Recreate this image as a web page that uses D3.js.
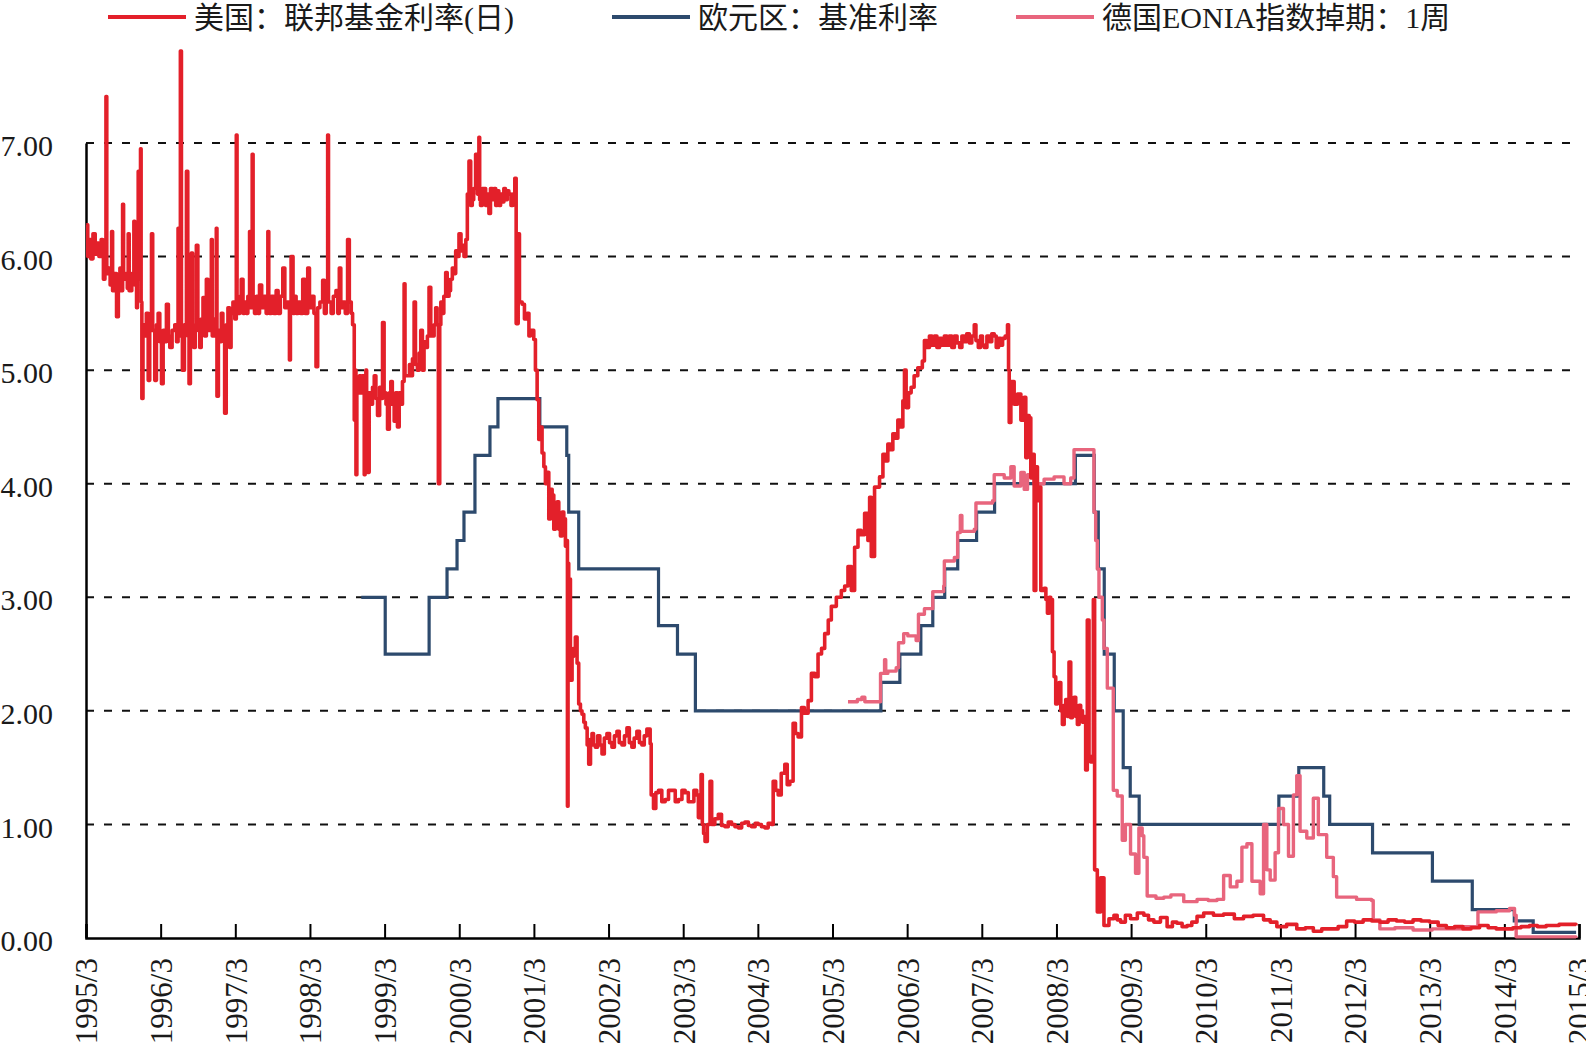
<!DOCTYPE html>
<html>
<head>
<meta charset="utf-8">
<script src="https://cdn.jsdelivr.net/npm/d3@7"></script>
<style>
  body { margin: 0; background: #fff; }
  svg { display: block; }
  text { font-family: 'Liberation Serif', 'Noto Sans CJK SC', serif; fill: #1a1a1a; }
</style>
</head>
<body>
<div class="chart"></div>
<script>
// dates are decimal years
var xTickLabels = ['1995/3', '1996/3', '1997/3', '1998/3', '1999/3', '2000/3', '2001/3',
  '2002/3', '2003/3', '2004/3', '2005/3', '2006/3', '2007/3', '2008/3', '2009/3',
  '2010/3', '2011/3', '2012/3', '2013/3', '2014/3', '2015/3'];
var yTicks = [0, 1, 2, 3, 4, 5, 6, 7];
var seriesNames = ['美国：联邦基金利率(日)', '欧元区：基准利率', '德国EONIA指数掉期：1周'];

// [date, rate]
var usPoints = [
  [1995.17, 6.28], [1995.19, 6.0], [1995.21, 6.15], [1995.23, 5.98], [1995.26, 6.2],
  [1995.29, 6.02], [1995.31, 6.12], [1995.34, 6.0], [1995.37, 6.15], [1995.39, 6.05],
  [1995.4, 5.8], [1995.42, 5.85], [1995.434, 7.41], [1995.445, 5.85], [1995.47, 5.9],
  [1995.49, 5.75], [1995.51, 6.22], [1995.523, 5.7], [1995.55, 5.85], [1995.576, 5.47],
  [1995.6, 5.8], [1995.621, 5.9], [1995.64, 5.7], [1995.657, 6.46], [1995.67, 5.8],
  [1995.7, 5.85], [1995.72, 5.72], [1995.732, 6.2], [1995.745, 5.7], [1995.78, 5.85],
  [1995.808, 6.31], [1995.82, 5.75], [1995.844, 5.55], [1995.856, 5.9], [1995.866, 6.75],
  [1995.88, 5.8], [1995.897, 6.95], [1995.905, 5.6], [1995.915, 4.75], [1995.93, 5.4],
  [1995.955, 5.3], [1995.975, 5.5], [1996.0, 4.91], [1996.02, 5.35], [1996.044, 6.2],
  [1996.06, 5.35], [1996.088, 4.91], [1996.11, 5.4], [1996.133, 5.5], [1996.155, 5.25],
  [1996.178, 4.88], [1996.2, 5.35], [1996.22, 5.25], [1996.244, 5.58], [1996.27, 5.3],
  [1996.289, 5.2], [1996.32, 5.35], [1996.356, 5.4], [1996.38, 5.25], [1996.4, 6.25],
  [1996.415, 5.3], [1996.431, 7.81], [1996.445, 5.3], [1996.458, 5.0], [1996.485, 5.4],
  [1996.512, 6.75], [1996.53, 5.3], [1996.547, 4.88], [1996.565, 5.4], [1996.578, 6.03],
  [1996.595, 5.3], [1996.61, 5.2], [1996.63, 5.4], [1996.645, 6.1], [1996.665, 5.35],
  [1996.69, 5.2], [1996.71, 5.45], [1996.734, 5.64], [1996.755, 5.3], [1996.779, 5.8],
  [1996.8, 5.35], [1996.825, 5.5], [1996.846, 6.15], [1996.858, 5.3], [1996.88, 5.45],
  [1996.912, 6.25], [1996.921, 4.77], [1996.94, 5.35], [1996.96, 5.25], [1996.979, 5.5],
  [1997.0, 5.3], [1997.024, 4.62], [1997.045, 5.4], [1997.068, 5.55], [1997.09, 5.2],
  [1997.11, 5.5], [1997.135, 5.6], [1997.16, 5.45], [1997.18, 7.07], [1997.19, 5.6],
  [1997.21, 5.5], [1997.23, 5.65], [1997.246, 5.8], [1997.27, 5.5], [1997.29, 5.6],
  [1997.313, 5.5], [1997.335, 5.65], [1997.358, 6.22], [1997.37, 5.55], [1997.393, 6.9],
  [1997.405, 5.6], [1997.424, 5.5], [1997.45, 5.65], [1997.47, 5.5], [1997.491, 5.75],
  [1997.52, 5.55], [1997.55, 5.65], [1997.58, 5.5], [1997.603, 6.22], [1997.615, 5.6],
  [1997.625, 5.5], [1997.65, 5.65], [1997.68, 5.5], [1997.714, 5.7], [1997.74, 5.5],
  [1997.77, 5.65], [1997.803, 5.9], [1997.83, 5.55], [1997.86, 5.6], [1997.892, 5.09],
  [1997.905, 5.6], [1997.914, 6.0], [1997.94, 5.5], [1997.96, 5.65], [1997.981, 5.5],
  [1998.01, 5.6], [1998.04, 5.5], [1998.07, 5.8], [1998.1, 5.5], [1998.137, 5.9],
  [1998.16, 5.55], [1998.19, 5.65], [1998.22, 5.5], [1998.248, 5.03], [1998.27, 5.55],
  [1998.3, 5.6], [1998.337, 5.79], [1998.36, 5.5], [1998.385, 5.6], [1998.404, 7.07],
  [1998.415, 5.6], [1998.45, 5.5], [1998.48, 5.65], [1998.515, 5.7], [1998.54, 5.5],
  [1998.56, 5.9], [1998.58, 5.55], [1998.604, 5.6], [1998.64, 5.5], [1998.671, 6.15],
  [1998.694, 5.6], [1998.72, 5.5], [1998.738, 5.4], [1998.76, 4.56], [1998.77, 5.0],
  [1998.783, 4.08], [1998.795, 4.9], [1998.805, 4.8], [1998.83, 4.95], [1998.849, 4.8],
  [1998.87, 4.95], [1998.894, 4.08], [1998.905, 4.85], [1998.916, 5.0], [1998.926, 4.7],
  [1998.938, 4.1], [1998.96, 4.8], [1998.983, 4.7], [1999.005, 4.85], [1999.028, 4.95],
  [1999.05, 4.75], [1999.072, 4.6], [1999.1, 4.85], [1999.12, 4.75], [1999.139, 5.42],
  [1999.16, 4.8], [1999.185, 4.7], [1999.206, 4.48], [1999.23, 4.8], [1999.25, 4.9],
  [1999.27, 4.7], [1999.295, 4.55], [1999.315, 4.8], [1999.339, 4.5], [1999.362, 4.8],
  [1999.385, 4.7], [1999.406, 4.9], [1999.428, 5.76], [1999.44, 4.95], [1999.473, 4.95],
  [1999.5, 5.05], [1999.52, 4.95], [1999.54, 5.1], [1999.562, 5.6], [1999.58, 5.05],
  [1999.606, 5.0], [1999.63, 5.15], [1999.651, 5.35], [1999.673, 5.0], [1999.695, 5.25],
  [1999.718, 5.2], [1999.74, 5.3], [1999.762, 5.73], [1999.785, 5.3], [1999.807, 5.3],
  [1999.83, 5.4], [1999.851, 5.55], [1999.87, 5.4], [1999.887, 4.0], [1999.905, 5.4],
  [1999.92, 5.6], [1999.94, 5.5], [1999.96, 5.65], [1999.985, 5.86], [2000.005, 5.65],
  [2000.03, 5.7], [2000.05, 5.8], [2000.074, 5.9], [2000.095, 5.85], [2000.119, 6.05],
  [2000.14, 6.0], [2000.163, 6.2], [2000.19, 6.05], [2000.21, 6.1], [2000.23, 6.0],
  [2000.255, 6.15], [2000.275, 6.55], [2000.297, 6.84], [2000.32, 6.45], [2000.341, 6.5],
  [2000.36, 6.6], [2000.386, 6.9], [2000.41, 6.55], [2000.43, 7.05], [2000.44, 6.5],
  [2000.452, 6.45], [2000.475, 6.6], [2000.497, 6.6], [2000.52, 6.45], [2000.54, 6.55],
  [2000.564, 6.38], [2000.585, 6.6], [2000.61, 6.5], [2000.631, 6.6], [2000.655, 6.45],
  [2000.675, 6.58], [2000.697, 6.45], [2000.72, 6.55], [2000.74, 6.48], [2000.764, 6.6],
  [2000.785, 6.5], [2000.81, 6.58], [2000.831, 6.55], [2000.86, 6.45], [2000.885, 6.55],
  [2000.911, 6.69], [2000.929, 5.41], [2000.956, 6.2], [2000.973, 5.6], [2001.009, 5.58],
  [2001.04, 5.45], [2001.076, 5.5], [2001.1, 5.3], [2001.12, 5.35], [2001.165, 5.27],
  [2001.187, 5.0], [2001.21, 4.74], [2001.232, 4.39], [2001.255, 4.5], [2001.276, 4.27],
  [2001.3, 4.15], [2001.321, 4.0], [2001.345, 4.1], [2001.366, 3.69], [2001.39, 3.95],
  [2001.411, 3.9], [2001.433, 3.6], [2001.455, 3.8], [2001.478, 3.84], [2001.5, 3.6],
  [2001.522, 3.54], [2001.545, 3.75], [2001.567, 3.69], [2001.589, 3.45], [2001.607, 3.5],
  [2001.616, 1.16], [2001.624, 3.3], [2001.633, 3.16], [2001.656, 2.27], [2001.678, 2.48],
  [2001.7, 2.55], [2001.722, 2.65], [2001.745, 2.42], [2001.767, 2.06], [2001.79, 2.0],
  [2001.811, 1.97], [2001.835, 1.9], [2001.856, 1.85], [2001.88, 1.7], [2001.901, 1.53],
  [2001.925, 1.75], [2001.945, 1.8], [2001.965, 1.7], [2001.99, 1.68], [2002.02, 1.78],
  [2002.05, 1.7], [2002.079, 1.62], [2002.11, 1.76], [2002.145, 1.8], [2002.18, 1.72],
  [2002.212, 1.68], [2002.245, 1.78], [2002.279, 1.82], [2002.31, 1.72], [2002.346, 1.7],
  [2002.38, 1.78], [2002.413, 1.85], [2002.445, 1.72], [2002.479, 1.68], [2002.51, 1.76],
  [2002.546, 1.82], [2002.58, 1.72], [2002.613, 1.7], [2002.645, 1.78], [2002.68, 1.84],
  [2002.724, 1.71], [2002.738, 1.26], [2002.769, 1.14], [2002.8, 1.28], [2002.836, 1.3],
  [2002.88, 1.2], [2002.925, 1.22], [2002.97, 1.3], [2003.014, 1.3], [2003.06, 1.2],
  [2003.103, 1.22], [2003.15, 1.3], [2003.192, 1.28], [2003.235, 1.2], [2003.281, 1.2],
  [2003.31, 1.3], [2003.348, 1.26], [2003.37, 1.06], [2003.406, 1.44], [2003.423, 1.0],
  [2003.44, 0.92], [2003.459, 0.85], [2003.49, 1.0], [2003.526, 1.38], [2003.548, 1.0],
  [2003.59, 1.05], [2003.637, 1.09], [2003.68, 0.99], [2003.726, 0.98], [2003.77, 1.02],
  [2003.815, 1.0], [2003.86, 0.98], [2003.904, 0.97], [2003.95, 1.01], [2003.993, 1.02],
  [2004.04, 0.99], [2004.082, 0.98], [2004.13, 1.01], [2004.171, 1.0], [2004.215, 0.98],
  [2004.26, 0.97], [2004.305, 1.01], [2004.35, 1.0], [2004.372, 1.38], [2004.405, 1.3],
  [2004.439, 1.26], [2004.48, 1.45], [2004.528, 1.53], [2004.56, 1.35], [2004.595, 1.38],
  [2004.639, 1.89], [2004.67, 1.8], [2004.706, 1.77], [2004.751, 2.03], [2004.79, 1.98],
  [2004.84, 2.09], [2004.884, 2.33], [2004.93, 2.3], [2004.973, 2.5], [2005.02, 2.55],
  [2005.062, 2.68], [2005.11, 2.8], [2005.151, 2.92], [2005.218, 3.0], [2005.285, 3.06],
  [2005.33, 3.1], [2005.374, 3.27], [2005.419, 3.06], [2005.463, 3.44], [2005.508, 3.59],
  [2005.55, 3.55], [2005.597, 3.74], [2005.641, 3.5], [2005.664, 3.88], [2005.686, 3.36],
  [2005.73, 3.97], [2005.797, 4.06], [2005.842, 4.26], [2005.875, 4.2], [2005.908, 4.35],
  [2005.94, 4.3], [2005.975, 4.44], [2006.01, 4.4], [2006.042, 4.56], [2006.075, 4.5],
  [2006.109, 4.73], [2006.131, 5.0], [2006.153, 4.67], [2006.185, 4.8], [2006.22, 4.85],
  [2006.26, 4.95], [2006.309, 5.02], [2006.37, 5.08], [2006.398, 5.26], [2006.43, 5.2],
  [2006.465, 5.3], [2006.5, 5.22], [2006.532, 5.3], [2006.565, 5.2], [2006.6, 5.28],
  [2006.632, 5.22], [2006.665, 5.3], [2006.7, 5.22], [2006.73, 5.3], [2006.765, 5.2],
  [2006.799, 5.3], [2006.835, 5.24], [2006.87, 5.2], [2006.9, 5.3], [2006.933, 5.25],
  [2006.965, 5.32], [2007.0, 5.24], [2007.033, 5.3], [2007.066, 5.4], [2007.088, 5.26],
  [2007.12, 5.2], [2007.15, 5.3], [2007.175, 5.22], [2007.2, 5.2], [2007.235, 5.3],
  [2007.27, 5.25], [2007.3, 5.32], [2007.333, 5.3], [2007.36, 5.2], [2007.39, 5.28],
  [2007.42, 5.22], [2007.445, 5.28], [2007.48, 5.3], [2007.511, 5.4], [2007.525, 5.0],
  [2007.534, 4.54], [2007.556, 4.9], [2007.6, 4.7], [2007.645, 4.79], [2007.69, 4.56],
  [2007.734, 4.76], [2007.756, 4.23], [2007.78, 4.6], [2007.801, 4.58], [2007.823, 4.05],
  [2007.845, 4.26], [2007.868, 3.06], [2007.89, 4.15], [2007.912, 3.85], [2007.935, 3.97],
  [2007.957, 3.06], [2008.001, 3.08], [2008.025, 2.98], [2008.046, 2.86], [2008.07, 3.0],
  [2008.09, 2.98], [2008.113, 2.52], [2008.135, 2.3], [2008.157, 2.06], [2008.18, 2.2],
  [2008.202, 2.25], [2008.225, 2.0], [2008.246, 1.88], [2008.27, 2.05], [2008.291, 2.1],
  [2008.315, 1.95], [2008.335, 2.43], [2008.358, 1.94], [2008.38, 2.05], [2008.402, 2.12],
  [2008.425, 1.95], [2008.447, 1.88], [2008.47, 2.05], [2008.491, 2.0], [2008.515, 1.9],
  [2008.536, 1.95], [2008.558, 1.48], [2008.58, 2.8], [2008.603, 1.6], [2008.625, 1.55],
  [2008.661, 2.98], [2008.678, 0.6], [2008.714, 0.23], [2008.758, 0.53], [2008.803, 0.11],
  [2008.87, 0.17], [2008.937, 0.2], [2008.98, 0.16], [2009.026, 0.14], [2009.09, 0.2],
  [2009.159, 0.17], [2009.25, 0.22], [2009.337, 0.2], [2009.4, 0.16], [2009.471, 0.14],
  [2009.56, 0.18], [2009.649, 0.1], [2009.72, 0.14], [2009.78, 0.13], [2009.85, 0.1],
  [2009.916, 0.11], [2009.98, 0.14], [2010.05, 0.19], [2010.139, 0.22], [2010.27, 0.2],
  [2010.406, 0.21], [2010.55, 0.17], [2010.673, 0.19], [2010.8, 0.2], [2010.941, 0.16],
  [2011.03, 0.14], [2011.119, 0.1], [2011.25, 0.12], [2011.386, 0.08], [2011.5, 0.09],
  [2011.608, 0.06], [2011.72, 0.08], [2011.831, 0.08], [2011.94, 0.1], [2012.054, 0.15],
  [2012.16, 0.14], [2012.276, 0.16], [2012.39, 0.15], [2012.499, 0.14], [2012.61, 0.16],
  [2012.722, 0.15], [2012.83, 0.14], [2012.944, 0.16], [2013.05, 0.15], [2013.167, 0.14],
  [2013.28, 0.11], [2013.39, 0.09], [2013.5, 0.1], [2013.612, 0.08], [2013.72, 0.09],
  [2013.835, 0.11], [2013.95, 0.09], [2014.058, 0.08], [2014.17, 0.08], [2014.281, 0.09],
  [2014.39, 0.1], [2014.503, 0.11], [2014.61, 0.1], [2014.726, 0.11], [2014.9, 0.12],
  [2015.126, 0.11]
];

var ecbPoints = [
  [1998.854, 3.0], [1999.175, 2.5], [1999.763, 3.0], [2000.003, 3.25], [2000.137, 3.5],
  [2000.23, 3.75], [2000.377, 4.25], [2000.578, 4.5], [2000.685, 4.75], [2001.246, 4.5],
  [2001.607, 4.25], [2001.633, 3.75], [2001.767, 3.25], [2002.836, 2.75], [2003.09, 2.5],
  [2003.33, 2.0], [2005.815, 2.25], [2006.069, 2.5], [2006.35, 2.75], [2006.51, 3.0],
  [2006.67, 3.25], [2006.844, 3.5], [2007.097, 3.75], [2007.338, 4.0], [2008.42, 4.25],
  [2008.673, 3.75], [2008.727, 3.25], [2008.807, 2.5], [2008.941, 2.0], [2009.061, 1.5],
  [2009.155, 1.25], [2009.275, 1.0], [2011.146, 1.25], [2011.413, 1.5], [2011.747, 1.25],
  [2011.827, 1.0], [2012.401, 0.75], [2013.203, 0.5], [2013.737, 0.25], [2014.3, 0.15],
  [2014.553, 0.05], [2015.128, 0.05]
];

var eoniaPoints = [
  [2005.374, 2.08], [2005.5, 2.1], [2005.56, 2.12], [2005.6, 2.08], [2005.775, 2.08],
  [2005.81, 2.33], [2005.864, 2.45], [2005.88, 2.33], [2005.908, 2.35], [2006.02, 2.38],
  [2006.051, 2.6], [2006.12, 2.68], [2006.176, 2.66], [2006.287, 2.62], [2006.318, 2.85],
  [2006.398, 2.9], [2006.51, 3.05], [2006.656, 3.1], [2006.665, 3.32], [2006.799, 3.35],
  [2006.843, 3.57], [2006.879, 3.72], [2006.9, 3.58], [2007.066, 3.6], [2007.088, 3.83],
  [2007.311, 3.85], [2007.333, 4.08], [2007.467, 4.05], [2007.556, 4.15], [2007.6, 3.98],
  [2007.69, 4.1], [2007.735, 3.95], [2007.779, 4.08], [2007.868, 4.0], [2008.001, 4.04],
  [2008.135, 4.06], [2008.268, 4.0], [2008.358, 4.05], [2008.402, 4.3], [2008.647, 4.3],
  [2008.669, 3.75], [2008.692, 3.5], [2008.714, 3.25], [2008.736, 3.0], [2008.781, 2.8],
  [2008.803, 2.55], [2008.848, 2.2], [2008.914, 2.2], [2008.928, 1.3], [2008.981, 1.25],
  [2009.048, 0.86], [2009.09, 1.0], [2009.159, 0.74], [2009.226, 0.57], [2009.271, 0.97],
  [2009.315, 0.9], [2009.337, 0.71], [2009.382, 0.37], [2009.5, 0.35], [2009.605, 0.36],
  [2009.7, 0.38], [2009.783, 0.38], [2009.872, 0.32], [2010.05, 0.34], [2010.2, 0.33],
  [2010.317, 0.34], [2010.406, 0.55], [2010.495, 0.45], [2010.584, 0.5], [2010.651, 0.8],
  [2010.718, 0.83], [2010.785, 0.5], [2010.896, 0.39], [2010.941, 1.0], [2010.985, 0.6],
  [2011.03, 0.51], [2011.096, 0.75], [2011.141, 1.14], [2011.208, 1.0], [2011.275, 0.72],
  [2011.341, 1.26], [2011.386, 1.43], [2011.43, 0.94], [2011.52, 0.88], [2011.608, 1.23],
  [2011.675, 0.91], [2011.787, 0.71], [2011.876, 0.54], [2011.92, 0.36], [2012.187, 0.34],
  [2012.388, 0.33], [2012.41, 0.16], [2012.499, 0.08], [2012.7, 0.09], [2012.944, 0.07],
  [2013.2, 0.08], [2013.39, 0.08], [2013.6, 0.1], [2013.79, 0.1], [2013.813, 0.23],
  [2014.058, 0.24], [2014.236, 0.26], [2014.303, 0.2], [2014.325, 0.01], [2015.126, 0.0]
];

var colors = ['#e3202a', '#2d4a6d', '#e8657d'];

var width = 1586,
  height = 1043;

var svg = d3
  .select('.chart')
  .append('svg')
  .attr('width', width)
  .attr('height', height);

var xTickValues = xTickLabels.map((l) => +l.slice(0, 4) + 2 / 12);

var xScale = d3
  .scaleLinear()
  .domain([xTickValues[0], xTickValues[xTickValues.length - 1]])
  .range([86, 1579]);

var yScale = d3.scaleLinear().domain([0, 7]).range([938, 143]);

// dashed gridlines
svg
  .append('g')
  .selectAll('line')
  .data(yTicks.slice(1))
  .enter()
  .append('line')
  .attr('x1', xScale.range()[0])
  .attr('x2', xScale.range()[1])
  .attr('y1', (d) => yScale(d))
  .attr('y2', (d) => yScale(d))
  .attr('stroke', '#111')
  .attr('stroke-width', 2)
  .attr('stroke-dasharray', '8,10');

// y axis
var yAxis = d3
  .axisLeft(yScale)
  .tickValues(yTicks)
  .tickSize(0)
  .tickPadding(33)
  .tickFormat(d3.format('.2f'));

var yG = svg.append('g').attr('transform', 'translate(86,0)').call(yAxis);
yG.select('.domain').attr('stroke', '#000').attr('stroke-width', 2.5);
yG.selectAll('text')
  .style('font-size', '30px')
  .attr('dy', '0.42em');

// x axis, ticks point up into the plot
var xAxis = d3
  .axisBottom(xScale)
  .tickValues(xTickValues)
  .tickSize(-14)
  .tickFormat((d, i) => xTickLabels[i]);

var xG = svg.append('g').attr('transform', 'translate(0,938)').call(xAxis);
xG.select('.domain').attr('stroke', '#000').attr('stroke-width', 2.5);
xG.selectAll('.tick line').attr('stroke', '#000').attr('stroke-width', 2);
xG.selectAll('text')
  .style('font-size', '31px')
  .attr('text-anchor', 'end')
  .attr('transform', 'translate(0,20) rotate(-90)')
  .attr('x', 0)
  .attr('y', 0)
  .attr('dy', '0.35em');

// series lines
var line = d3
  .line()
  .x((d) => xScale(d[0]))
  .y((d) => yScale(d[1]));

svg
  .append('path')
  .datum(ecbPoints)
  .attr('fill', 'none')
  .attr('stroke', colors[1])
  .attr('stroke-width', 3.2)
  .attr('d', line.curve(d3.curveStepAfter));

svg
  .append('path')
  .datum(eoniaPoints)
  .attr('fill', 'none')
  .attr('stroke', colors[2])
  .attr('stroke-width', 3.4)
  .attr('stroke-linejoin', 'round')
  .attr('d', line.curve(d3.curveStepAfter));

svg
  .append('path')
  .datum(usPoints)
  .attr('fill', 'none')
  .attr('stroke', colors[0])
  .attr('stroke-width', 3.6)
  .attr('stroke-linejoin', 'round')
  .attr('d', line.curve(d3.curveStepAfter));

// legend
var legendX = [108, 612, 1016];
var legend = svg
  .append('g')
  .selectAll('g')
  .data(seriesNames)
  .enter()
  .append('g')
  .attr('transform', (d, i) => 'translate(' + legendX[i] + ',0)');

legend
  .append('line')
  .attr('x1', 0)
  .attr('x2', 78)
  .attr('y1', 17)
  .attr('y2', 17)
  .attr('stroke', (d, i) => colors[i])
  .attr('stroke-width', 4);

legend
  .append('text')
  .attr('x', 86)
  .attr('y', 28)
  .style('font-size', '30px')
  .text((d) => d);
</script>
</body>
</html>
